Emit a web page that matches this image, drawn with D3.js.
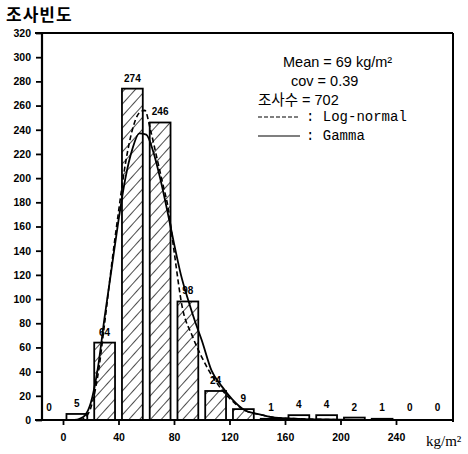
<!DOCTYPE html>
<html>
<head>
<meta charset="utf-8">
<script src="https://cdn.jsdelivr.net/npm/d3@7"></script>
<style>
  body { margin: 0; background: #fff; }
  svg { display: block; }
  .tick-label { font-family: "Liberation Sans", Arial, sans-serif; font-weight: bold; font-size: 10.5px; }
</style>
</head>
<body>
<svg id="chart"></svg>
<script>
// bin centres (kg/m2) and counts of each bin
const binCenters = [-10, 10, 30, 50, 70, 90, 110, 130, 150, 170, 190, 210, 230, 250, 270];
const counts = [0, 5, 64, 274, 246, 98, 24, 9, 1, 4, 4, 2, 1, 0, 0];

// fitted curves
const gammaX = [8, 12, 16, 20, 25, 30, 35, 40, 45, 50, 55, 60, 65, 70, 75, 80, 85, 90, 95, 100, 107, 115, 122, 131, 140, 153, 170, 190, 210];
const gammaY = [0, 1, 4, 14, 42, 85, 125, 165, 200, 224, 237, 236, 222, 200, 174, 146, 120, 100, 82, 66, 41, 27, 17, 8, 5, 2, 1, 0.4, 0];
const lognX = [12, 16, 20, 25, 30, 35, 40, 45, 50, 55, 59, 63, 68, 72, 76, 80, 86, 93, 100, 110, 120, 131, 140, 153, 170, 190, 210];
const lognY = [0, 2, 10, 36, 80, 128, 172, 212, 240, 254, 256, 240, 215, 195, 174, 140, 93, 70, 52, 32, 18, 8, 5, 2, 1, 0.4, 0];

const xTicks = [0, 40, 80, 120, 160, 200, 240];
const yTicks = d3.range(0, 321, 20);

const legendLines = ["Mean = 69 kg/m²", "cov = 0.39", "조사수 = 702"];

const W = 468, H = 454;
const svg = d3.select("#chart").attr("width", W).attr("height", H);

const x = d3.scaleLinear().domain([0, 240]).range([63, 396]);
const y = d3.scaleLinear().domain([0, 320]).range([420, 33]);
const left = 42, right = 453;

// hatch pattern
svg.append("defs").append("pattern")
    .attr("id", "hatch")
    .attr("patternUnits", "userSpaceOnUse")
    .attr("width", 8).attr("height", 8)
    .attr("patternTransform", "rotate(42)")
  .append("line")
    .attr("x1", 0).attr("y1", 0).attr("x2", 0).attr("y2", 8)
    .attr("stroke", "#000").attr("stroke-width", 1.4);

// bars
const barW = x(15) - x(0);
svg.selectAll(".bar")
    .data(counts.map((c, i) => ({ c: c, m: binCenters[i] })).filter(d => d.c > 0))
    .enter().append("rect")
    .attr("class", "bar")
    .attr("x", d => x(d.m) - barW / 2)
    .attr("width", barW)
    .attr("y", d => y(d.c))
    .attr("height", d => y(0) - y(d.c))
    .attr("fill", d => d.c >= 9 ? "url(#hatch)" : "#fff")
    .attr("stroke", "#000")
    .attr("stroke-width", 1.8);

// value labels
svg.selectAll(".val")
    .data(counts)
    .enter().append("text")
    .attr("class", "tick-label")
    .attr("x", (d, i) => x(binCenters[i]))
    .attr("y", d => Math.min(y(d) - 7, 411))
    .attr("text-anchor", "middle")
    .style("font-size", "10px")
    .text(d => d);

// curves
const line = d3.line().curve(d3.curveMonotoneX);
svg.append("path")
    .attr("d", line(gammaX.map((v, i) => [x(v), y(gammaY[i])])))
    .attr("fill", "none").attr("stroke", "#000").attr("stroke-width", 1.8);
svg.append("path")
    .attr("d", line(lognX.map((v, i) => [x(v), y(lognY[i])])))
    .attr("fill", "none").attr("stroke", "#000").attr("stroke-width", 1.6)
    .attr("stroke-dasharray", "5,3");

// frame and axes
svg.append("line").attr("x1", 35).attr("x2", right).attr("y1", y(320)).attr("y2", y(320))
    .attr("stroke", "#000").attr("stroke-width", 2);
svg.append("line").attr("x1", 35).attr("x2", right + 1).attr("y1", y(0)).attr("y2", y(0))
    .attr("stroke", "#000").attr("stroke-width", 2.2);
svg.append("line").attr("x1", left).attr("x2", left).attr("y1", y(320)).attr("y2", y(0))
    .attr("stroke", "#000").attr("stroke-width", 2.2);
svg.append("line").attr("x1", right).attr("x2", right).attr("y1", y(320)).attr("y2", y(0) + 2)
    .attr("stroke", "#000").attr("stroke-width", 2);

const yAxis = svg.append("g")
    .attr("transform", `translate(${left},0)`)
    .call(d3.axisLeft(y).tickValues(yTicks).tickSize(6).tickPadding(5));
const xAxis = svg.append("g")
    .attr("transform", `translate(0,${y(0)})`)
    .call(d3.axisBottom(x).tickValues(xTicks).tickSize(5).tickPadding(9));
[yAxis, xAxis].forEach(a => {
    a.select(".domain").remove();
    a.selectAll(".tick line").attr("stroke", "#000").attr("stroke-width", 1.8);
    a.selectAll(".tick text").attr("class", "tick-label").attr("fill", "#000");
});

// titles
svg.append("text")
    .attr("x", 6).attr("y", 21)
    .style("font-family", "'Noto Sans CJK KR', sans-serif")
    .style("font-size", "17px")
    .style("font-weight", "bold")
    .style("letter-spacing", "1px")
    .text("조사빈도");
svg.append("text")
    .attr("x", 426).attr("y", 446)
    .style("font-family", "'Liberation Serif', serif")
    .style("font-size", "15px")
    .text("kg/m²");

// legend
const lg = svg.append("g");
const lgX = [283, 291, 258];
legendLines.forEach((t, i) => {
    lg.append("text")
        .attr("x", lgX[i]).attr("y", 67 + i * 19)
        .style("font-family", "'Liberation Sans', 'Noto Sans CJK KR', sans-serif")
        .style("font-size", "14.5px")
        .text(t);
});
const keys = [
    { label: ":  Log-normal", dash: "4,2", yy: 121 },
    { label: ":  Gamma", dash: null, yy: 140 }
];
keys.forEach(k => {
    lg.append("line")
        .attr("x1", 258).attr("x2", 300).attr("y1", k.yy - 4).attr("y2", k.yy - 4)
        .attr("stroke", "#000").attr("stroke-width", 1.2)
        .attr("stroke-dasharray", k.dash);
    lg.append("text")
        .attr("x", 306).attr("y", k.yy)
        .style("font-family", "'Liberation Mono', monospace")
        .style("font-size", "14px")
        .text(k.label);
});
</script>
</body>
</html>
